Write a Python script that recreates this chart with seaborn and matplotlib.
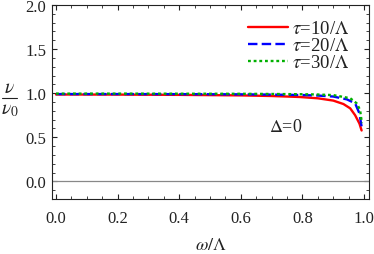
import matplotlib
matplotlib.use("Agg")
import matplotlib.pyplot as plt
import seaborn as sns
import pandas as pd
from matplotlib.ticker import MultipleLocator, FormatStrFormatter
from matplotlib.lines import Line2D

sns.set_style("ticks")
plt.rcParams['font.family'] = ['Liberation Serif', 'DejaVu Serif']
plt.rcParams['mathtext.fontset'] = 'stix'

x10 = [0.0, 0.2, 0.4, 0.6, 0.7, 0.79, 0.85, 0.9, 0.933, 0.955, 0.971, 0.985, 0.992]
y10 = [0.985, 0.984, 0.981, 0.975, 0.968, 0.957, 0.942, 0.916, 0.877, 0.828, 0.75, 0.655, 0.577]
x20 = [0.0, 0.2, 0.4, 0.6, 0.7, 0.8, 0.85, 0.9, 0.944, 0.971, 0.985, 0.992]
y20 = [0.99, 0.99, 0.989, 0.987, 0.984, 0.979, 0.973, 0.962, 0.93, 0.885, 0.77, 0.62]
x30 = [0.0, 0.2, 0.4, 0.6, 0.7, 0.8, 0.85, 0.9, 0.955, 0.976, 0.987, 0.993]
y30 = [0.995, 0.995, 0.994, 0.993, 0.991, 0.988, 0.985, 0.978, 0.943, 0.885, 0.81, 0.66]
labels = [r'$\tau$=10/$\Lambda$', r'$\tau$=20/$\Lambda$', r'$\tau$=30/$\Lambda$']

rows = []
for xs, ys, lab in zip([x10, x20, x30], [y10, y20, y30], labels):
    for a, b in zip(xs, ys):
        rows.append({'x': a, 'y': b, 'series': lab})
df = pd.DataFrame(rows)

W, H = 374, 255
fig = plt.figure(figsize=(3.74, 2.55), dpi=100)
ax = fig.add_axes([52/W, 1-200/H, (369-52)/W, (200-6)/H])
ax.axhline(0, color='#888888', lw=0.9, zorder=1)

colors = ['#ff0000', '#0000ff', '#00b000']
styles = ['-', (0, (4.0, 1.8)), (0, (1.2, 1.2))]
for lab, c, ls in zip(labels, colors, styles):
    sub = df[df['series'] == lab]
    sns.lineplot(data=sub, x='x', y='y', ax=ax, color=c, linestyle=ls, lw=1.7,
                 label=lab, estimator=None, sort=False)

ax.set_xlim(-0.013, 1.016)
ax.set_ylim(-0.2, 2.0)
ax.xaxis.set_major_locator(MultipleLocator(0.2))
ax.xaxis.set_minor_locator(MultipleLocator(0.05))
ax.yaxis.set_major_locator(MultipleLocator(0.5))
ax.yaxis.set_minor_locator(MultipleLocator(0.1))
ax.xaxis.set_major_formatter(FormatStrFormatter('%.1f'))
ax.yaxis.set_major_formatter(FormatStrFormatter('%.1f'))
tc = '#222222'
ax.tick_params(which='both', direction='in', top=True, right=True, labelsize=12, colors=tc, labelcolor=tc)
ax.tick_params(which='major', length=3.5, width=0.8)
ax.tick_params(axis='x', which='major', pad=8)
ax.tick_params(axis='y', which='major', pad=4)
ax.tick_params(which='minor', length=2, width=0.6)
for s in ax.spines.values():
    s.set_color(tc)
    s.set_linewidth(0.8)

ax.set_xlabel(r'$\omega/\Lambda$', fontsize=13, color=tc, va='center')
ax.xaxis.set_label_coords(0.5, -(246 - 200) / 194)
ax.set_ylabel('')

# y label as stacked fraction
fig.text(9/W, 1-89/H, r'$\nu$', fontsize=14, color=tc, ha='center', va='center')
fig.add_artist(Line2D([2/W, 17/W], [1-99/H, 1-99/H], color=tc, lw=0.8))
fig.text(10/W, 1-110/H, r'$\nu_0$', fontsize=14, color=tc, ha='center', va='center')

ax.text(0.745, 0.62, r'$\Delta$=0', fontsize=13, color=tc, ha='center', va='center')

leg = ax.legend(loc='upper right', bbox_to_anchor=((349 - 52) / 317, (200 - 21) / 194),
                frameon=False, fontsize=13.5, handlelength=2.15,
                handletextpad=0.2, labelspacing=0.0, borderaxespad=0.0, borderpad=0.0)
for t in leg.get_texts():
    t.set_color(tc)

fig.savefig('out.png', dpi=100)
